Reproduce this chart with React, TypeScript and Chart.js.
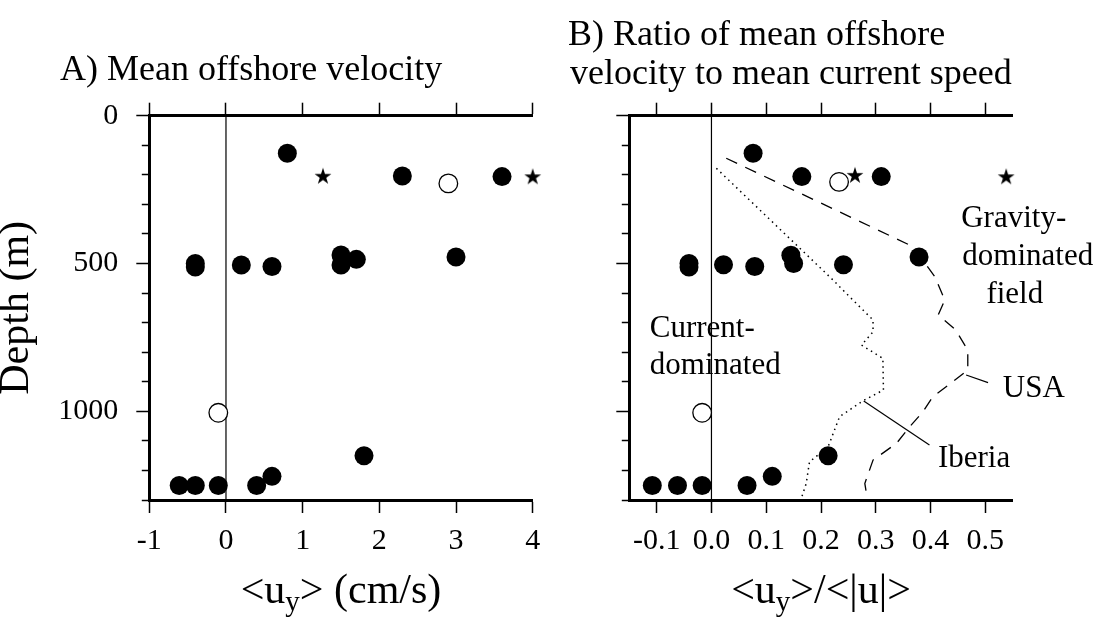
import React, { useEffect, useRef } from 'react';
import { Chart, registerables } from 'chart.js';

Chart.register(...registerables);

const FONT = "'Liberation Serif', 'Times New Roman', Times, serif";
Chart.defaults.font.family = FONT;
Chart.defaults.color = '#000';

// ---------- axes ----------
const A_TICKS_X = [-1, 0, 1, 2, 3, 4];
const B_TICKS_X = [-0.1, 0, 0.1, 0.2, 0.3, 0.4, 0.5];
const DEPTH_TICKS = [0, 100, 200, 300, 400, 500, 600, 700, 800, 900, 1000, 1100, 1200, 1300];
const DEPTH_LABELS = [0, 500, 1000];

// ---------- panel A: mean offshore velocity (cm/s) ----------
const A_FILLED_U = [0.8, 2.3, 3.6, -0.4, -0.4, 0.2, 0.6, 1.5, 1.5, 1.7, 3.0, -0.61, -0.4, -0.1, 0.4, 0.6, 1.8];
const A_FILLED_DEPTH = [127, 204, 206, 500, 512, 505, 510, 471, 505, 486, 478, 1251, 1251, 1251, 1251, 1220, 1150];
const A_OPEN_U = [2.9, -0.1];
const A_OPEN_DEPTH = [229, 1005];
const A_STAR_U = [1.265, 4.0];
const A_STAR_DEPTH = [203, 205];

// ---------- panel B: ratio ----------
const B_FILLED_RATIO = [0.076, 0.165, 0.31, -0.041, -0.041, 0.022, 0.079, 0.145, 0.15, 0.241, 0.379, -0.108, -0.062, -0.017, 0.065, 0.111, 0.213];
const B_FILLED_DEPTH = [127, 206, 206, 500, 512, 504, 510, 472, 500, 504, 478, 1251, 1251, 1251, 1251, 1220, 1150];
const B_OPEN_RATIO = [0.233, -0.017];
const B_OPEN_DEPTH = [224, 1005];
const B_STAR_RATIO = [0.262, 0.538];
const B_STAR_DEPTH = [200, 205];

const USA_RATIO = [0.027, 0.368, 0.408, 0.426, 0.414, 0.446, 0.468, 0.468, 0.44, 0.404, 0.386, 0.362, 0.338, 0.295, 0.28, 0.284];
const USA_DEPTH = [144, 443, 545, 624, 674, 725, 793, 860, 901, 951, 1002, 1052, 1108, 1165, 1244, 1290];
const IBERIA_RATIO = [0.009, 0.222, 0.246, 0.295, 0.295, 0.274, 0.313, 0.314, 0.277, 0.234, 0.213, 0.179, 0.173, 0.164];
const IBERIA_DEPTH = [178, 556, 601, 691, 731, 776, 821, 928, 964, 1018, 1120, 1171, 1244, 1295];
const USA_POINTER_RATIO = [0.465, 0.505];
const USA_POINTER_DEPTH = [877, 903];
const IBERIA_POINTER_RATIO = [0.278, 0.398];
const IBERIA_POINTER_DEPTH = [965, 1114];

const ZERO_X = [0, 0];
const ZERO_DEPTH = [0, 1300];

const NOTE_TEXT = ['Current-', 'dominated', 'Gravity-', 'dominated', 'field', 'USA', 'Iberia'];
const NOTE_RATIO = [-0.1126, -0.1126, 0.456, 0.458, 0.502, 0.532, 0.4135];
const NOTE_DEPTH = [748, 873, 376, 505, 635, 951, 1188];

const TITLE_A = ['A) Mean offshore velocity'];
const TITLE_B = ['B) Ratio of mean offshore', 'velocity to mean current speed'];

// ---------- helpers ----------
const pts = (xs: number[], ys: number[]) => xs.map((x, i) => ({ x, y: ys[i] }));

function makeStar(): HTMLCanvasElement {
  const size = 20;
  const c = document.createElement('canvas');
  c.width = size;
  c.height = size;
  const g = c.getContext('2d')!;
  const R = 8.8;
  const r = 3.4;
  g.beginPath();
  for (let i = 0; i < 10; i++) {
    const rad = i % 2 === 0 ? R : r;
    const a = -Math.PI / 2 + (i * Math.PI) / 5;
    const px = size / 2 + rad * Math.cos(a);
    const py = size / 2 + 0.9 + rad * Math.sin(a);
    if (i === 0) g.moveTo(px, py);
    else g.lineTo(px, py);
  }
  g.closePath();
  g.fillStyle = '#000';
  g.fill();
  return c;
}

function drawAxisTitle(ctx: CanvasRenderingContext2D, parts: [string, boolean][], cx: number, baseline: number) {
  const main = `42px ${FONT}`;
  const sub = `29px ${FONT}`;
  let total = 0;
  for (const [t, s] of parts) {
    ctx.font = s ? sub : main;
    total += ctx.measureText(t).width;
  }
  let x = cx - total / 2;
  ctx.textAlign = 'left';
  ctx.textBaseline = 'alphabetic';
  ctx.fillStyle = '#000';
  for (const [t, s] of parts) {
    ctx.font = s ? sub : main;
    ctx.fillText(t, x, s ? baseline + 8 : baseline);
    x += ctx.measureText(t).width;
  }
}

function scatterSets(star: HTMLCanvasElement, fx: number[], fy: number[], ox: number[], oy: number[], sx: number[], sy: number[]) {
  return [
    {
      label: 'star',
      data: pts(sx, sy),
      pointStyle: star,
      pointRadius: 8,
      clip: false,
    },
    {
      label: 'filled',
      data: pts(fx, fy),
      pointRadius: 9.5,
      pointBackgroundColor: '#000',
      pointBorderWidth: 0,
      clip: false,
    },
    {
      label: 'open',
      data: pts(ox, oy),
      pointRadius: 9.3,
      pointBackgroundColor: '#fff',
      pointBorderColor: '#000',
      pointBorderWidth: 1.3,
      clip: false,
    },
  ];
}

function lineSet(label: string, xs: number[], ys: number[], width: number, dash: number[]) {
  return {
    label,
    data: pts(xs, ys),
    showLine: true,
    pointRadius: 0,
    borderColor: '#000',
    borderWidth: width,
    borderDash: dash,
    tension: 0,
    clip: false,
  };
}

function depthAxis(width: number, labels: boolean, title: boolean) {
  return {
    type: 'linear',
    position: 'left',
    reverse: true,
    min: 0,
    max: 1300,
    afterBuildTicks: (s: any) => {
      s.ticks = DEPTH_TICKS.map((v) => ({ value: v }));
    },
    afterFit: (s: any) => {
      s.width = width;
    },
    ticks: {
      autoSkip: false,
      padding: 18,
      font: { size: 30, family: FONT },
      color: '#000',
      callback: (v: any) => (labels && DEPTH_LABELS.includes(Number(v)) ? String(v) : ''),
    },
    grid: {
      drawOnChartArea: false,
      drawTicks: true,
      tickLength: 13,
      tickWidth: 1.5,
      tickColor: '#000',
      tickBorderDash: (c: any) => (c.tick && DEPTH_LABELS.includes(c.tick.value) ? [] : [0, 5.5, 20, 0]),
    },
    border: { display: true, width: 3, color: '#000' },
    title: {
      display: title,
      text: 'Depth (m)',
      color: '#000',
      padding: 0,
      font: { size: 42, family: FONT, lineHeight: 0.83 },
    },
  };
}

function xAxis(position: 'top' | 'bottom', ticksArr: number[], min: number, max: number, size: number, fmt: (v: number) => string) {
  return {
    type: 'linear',
    position,
    min,
    max,
    afterBuildTicks: (s: any) => {
      s.ticks = ticksArr.map((v) => ({ value: v }));
    },
    afterFit: (s: any) => {
      s.height = size;
    },
    ticks: {
      display: position === 'bottom',
      autoSkip: false,
      maxRotation: 0,
      minRotation: 0,
      padding: 10,
      font: { size: 30, family: FONT },
      color: '#000',
      callback: (v: any) => fmt(Number(v)),
    },
    grid: {
      drawOnChartArea: false,
      drawTicks: true,
      tickLength: 13,
      tickWidth: 1.5,
      tickColor: '#000',
    },
    border: { display: true, width: 3, color: '#000' },
  };
}

function baseOptions(padRight: number, scales: any) {
  return {
    responsive: false,
    animation: false,
    events: [],
    layout: { padding: { left: 0, top: 0, right: padRight, bottom: 0 } },
    plugins: { legend: { display: false }, tooltip: { enabled: false }, title: { display: false } },
    scales,
  };
}

export default function App() {
  const refA = useRef<HTMLCanvasElement>(null);
  const refB = useRef<HTMLCanvasElement>(null);

  useEffect(() => {
    const star = makeStar();

    const chartA = new Chart(refA.current!, {
      type: 'scatter',
      data: {
        datasets: [
          ...scatterSets(star, A_FILLED_U, A_FILLED_DEPTH, A_OPEN_U, A_OPEN_DEPTH, A_STAR_U, A_STAR_DEPTH),
          lineSet('zero', ZERO_X, ZERO_DEPTH, 1.2, []),
        ],
      } as any,
      options: baseOptions(1102 - 532.7, {
        x: xAxis('bottom', A_TICKS_X, -1, 4, 124, (v) => String(v)),
        xTop: xAxis('top', A_TICKS_X, -1, 4, 115.7, () => ''),
        y: depthAxis(149.3, true, true),
      }) as any,
      plugins: [
        {
          id: 'textsA',
          afterDraw(chart: any) {
            const ctx = chart.ctx as CanvasRenderingContext2D;
            const area = chart.chartArea;
            ctx.save();
            ctx.fillStyle = '#000';
            ctx.textAlign = 'left';
            ctx.textBaseline = 'alphabetic';
            ctx.font = `36px ${FONT}`;
            ctx.fillText(TITLE_A[0], 60, 80);
            drawAxisTitle(ctx, [['<u', false], ['y', true], ['> (cm/s)', false]], (area.left + area.right) / 2, 603);
            ctx.restore();
          },
        },
      ],
    });

    const chartB = new Chart(refB.current!, {
      type: 'scatter',
      data: {
        datasets: [
          ...scatterSets(star, B_FILLED_RATIO, B_FILLED_DEPTH, B_OPEN_RATIO, B_OPEN_DEPTH, B_STAR_RATIO, B_STAR_DEPTH),
          lineSet('USA', USA_RATIO, USA_DEPTH, 1.3, [12, 9]),
          lineSet('Iberia', IBERIA_RATIO, IBERIA_DEPTH, 1.5, [1.5, 4]),
          lineSet('USA pointer', USA_POINTER_RATIO, USA_POINTER_DEPTH, 1.2, []),
          lineSet('Iberia pointer', IBERIA_POINTER_RATIO, IBERIA_POINTER_DEPTH, 1.2, []),
          lineSet('zero', ZERO_X, ZERO_DEPTH, 1.2, []),
        ],
      } as any,
      options: baseOptions(1102 - 1012.7, {
        x: xAxis('bottom', B_TICKS_X, -0.15, 0.55, 124, (v) => (Math.abs(v) < 1e-9 ? '0.0' : v.toFixed(1))),
        xTop: xAxis('top', B_TICKS_X, -0.15, 0.55, 115.7, () => ''),
        y: depthAxis(629.3, false, false),
      }) as any,
      plugins: [
        {
          id: 'textsB',
          afterDraw(chart: any) {
            const ctx = chart.ctx as CanvasRenderingContext2D;
            const area = chart.chartArea;
            const xs = chart.scales.x;
            const ys = chart.scales.y;
            ctx.save();
            ctx.fillStyle = '#000';
            ctx.textAlign = 'left';
            ctx.textBaseline = 'alphabetic';
            ctx.font = `36px ${FONT}`;
            ctx.fillText(TITLE_B[0], 568, 45);
            ctx.fillText(TITLE_B[1], 570, 84);
            ctx.font = `31px ${FONT}`;
            NOTE_TEXT.forEach((t, i) => {
              ctx.fillText(t, xs.getPixelForValue(NOTE_RATIO[i]), ys.getPixelForValue(NOTE_DEPTH[i]));
            });
            drawAxisTitle(ctx, [['<u', false], ['y', true], ['>/<|u|>', false]], (area.left + area.right) / 2, 603);
            ctx.restore();
          },
        },
      ],
    });

    return () => {
      chartA.destroy();
      chartB.destroy();
    };
  }, []);

  const canvasStyle: React.CSSProperties = { position: 'absolute', left: 0, top: 0, width: 1102, height: 624 };
  return (
    <div style={{ position: 'absolute', left: 0, top: 0, width: 1102, height: 624, background: '#fff' }}>
      <canvas ref={refA} width={1102} height={624} style={canvasStyle} />
      <canvas ref={refB} width={1102} height={624} style={canvasStyle} />
    </div>
  );
}
